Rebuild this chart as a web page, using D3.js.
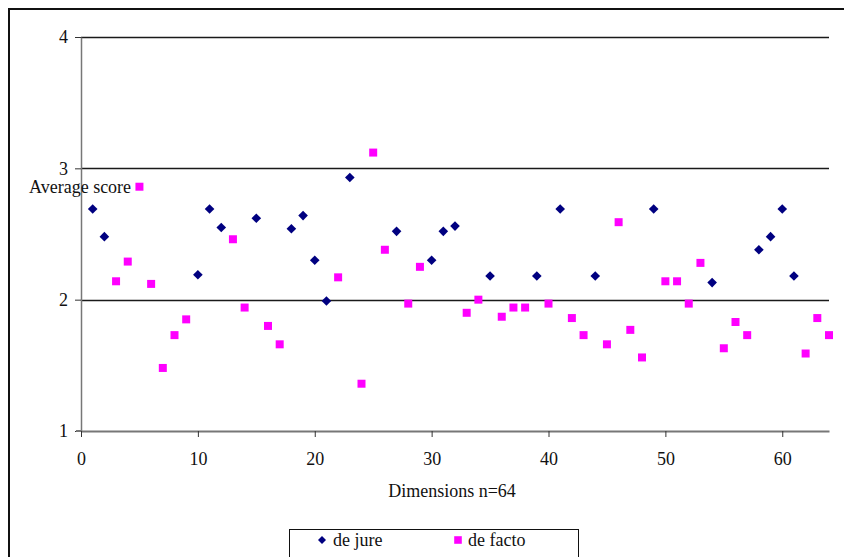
<!DOCTYPE html>
<html>
<head>
<meta charset="utf-8">
<script src="https://cdn.jsdelivr.net/npm/d3@7"></script>
<style>
  html, body { margin: 0; padding: 0; background: #fff; }
  svg { display: block; }
  svg text { font-family: "Liberation Serif", "Times New Roman", serif !important; }
</style>
</head>
<body>
<svg id="chart" width="844" height="557"></svg>
<script>
// ---- data ----
const deJureDims = [1, 2, 10, 11, 12, 15, 18, 19, 20, 21, 23, 27, 30, 31, 32, 35, 39, 41, 44, 49, 54, 58, 59, 60, 61];
const deJureScores = [2.69, 2.48, 2.19, 2.69, 2.55, 2.62, 2.54, 2.64, 2.30, 1.99, 2.93, 2.52, 2.30, 2.52, 2.56, 2.18, 2.18, 2.69, 2.18, 2.69, 2.13, 2.38, 2.48, 2.69, 2.18];
const deFactoDims = [3, 4, 5, 6, 7, 8, 9, 13, 14, 16, 17, 22, 24, 25, 26, 28, 29, 33, 34, 36, 37, 38, 40, 42, 43, 45, 46, 47, 48, 50, 51, 52, 53, 55, 56, 57, 62, 63, 64];
const deFactoScores = [2.14, 2.29, 2.86, 2.12, 1.48, 1.73, 1.85, 2.46, 1.94, 1.80, 1.66, 2.17, 1.36, 3.12, 2.38, 1.97, 2.25, 1.90, 2.00, 1.87, 1.94, 1.94, 1.97, 1.86, 1.73, 1.66, 2.59, 1.77, 1.56, 2.14, 2.14, 1.97, 2.28, 1.63, 1.83, 1.73, 1.59, 1.86, 1.73];
const xTicks = [0, 10, 20, 30, 40, 50, 60];
const yTicks = [1, 2, 3, 4];
const seriesNames = ["de jure", "de facto"];
const xTitle = "Dimensions n=64";
const yTitle = "Average score";

// ---- layout ----
const svg = d3.select("#chart");
const x = d3.scaleLinear().domain([0, 64]).range([81, 829]);
const y = d3.scaleLinear().domain([1, 4]).range([431, 37]);
const navy = "#000080", magenta = "#FF00FF";
const fontSize = 18;
const serif = '"Liberation Serif", "Times New Roman", serif';
const fmt = d3.format("d");

// outer frame
svg.append("rect").attr("x", 9).attr("y", 9).attr("width", 900).attr("height", 600)
  .attr("fill", "none").attr("stroke", "#111").attr("stroke-width", 2);

// gridlines
svg.append("g").selectAll("line").data(yTicks.filter(d => d > 1)).join("line")
  .attr("x1", x(0)).attr("x2", x(64))
  .attr("y1", d => Math.round(y(d)) + 0.5).attr("y2", d => Math.round(y(d)) + 0.5)
  .attr("stroke", "#1a1a1a").attr("stroke-width", 1.3);

// y axis
const yAxis = svg.append("g").attr("transform", `translate(${x(0)},0)`)
  .call(d3.axisLeft(y).tickValues(yTicks).tickFormat(fmt).tickSize(6).tickPadding(7).tickSizeOuter(0));
yAxis.attr("font-family", null);
yAxis.select(".domain").attr("stroke", "#777").attr("stroke-width", 1.5);
yAxis.selectAll(".tick line").attr("stroke", "#333");
yAxis.selectAll("text").attr("font-size", fontSize).attr("fill", "#111").style("font-family", serif);

// x axis
const xAxis = svg.append("g").attr("transform", `translate(0,${y(1)})`)
  .call(d3.axisBottom(x).tickValues(xTicks).tickFormat(fmt).tickSize(6).tickPadding(15).tickSizeOuter(0));
xAxis.attr("font-family", null);
xAxis.select(".domain").attr("stroke", "#777").attr("stroke-width", 2);
xAxis.selectAll(".tick line").attr("stroke", "#333");
xAxis.selectAll("text").attr("font-size", fontSize).attr("fill", "#111").style("font-family", serif);
svg.append("line").attr("x1", x(0) - 5).attr("x2", x(0)).attr("y1", y(1)).attr("y2", y(1))
  .attr("stroke", "#777").attr("stroke-width", 2);

// markers
const diamond = r => `M0,${-r}L${r},0L0,${r}L${-r},0Z`;
const square = s => `M${-s},${-s}H${s}V${s}H${-s}Z`;

svg.append("g").selectAll("path").data(deJureDims.map((d, i) => [d, deJureScores[i]])).join("path")
  .attr("d", diamond(4.8))
  .attr("transform", d => `translate(${x(d[0])},${y(d[1])})`)
  .attr("fill", navy);

svg.append("g").selectAll("path").data(deFactoDims.map((d, i) => [d, deFactoScores[i]])).join("path")
  .attr("d", square(4))
  .attr("transform", d => `translate(${x(d[0])},${y(d[1])})`)
  .attr("fill", magenta);

// titles
svg.append("text").attr("x", 29).attr("y", 193).attr("font-size", fontSize).attr("fill", "#111")
  .style("font-family", serif).text(yTitle);
svg.append("text").attr("x", 452).attr("y", 497).attr("text-anchor", "middle")
  .attr("font-size", fontSize).attr("fill", "#111").style("font-family", serif).text(xTitle);

// legend
const lg = svg.append("g");
lg.append("rect").attr("x", 289.5).attr("y", 529.5).attr("width", 289).attr("height", 60)
  .attr("fill", "#fff").attr("stroke", "#111").attr("stroke-width", 1);
const legendItems = [
  { name: seriesNames[0], shape: diamond(4), color: navy, mx: 322, tx: 333 },
  { name: seriesNames[1], shape: square(3.8), color: magenta, mx: 458, tx: 468 }
];
legendItems.forEach(it => {
  lg.append("path").attr("d", it.shape).attr("transform", `translate(${it.mx},540)`).attr("fill", it.color);
  lg.append("text").attr("x", it.tx).attr("y", 546).attr("font-size", fontSize).attr("fill", "#111")
    .style("font-family", serif).text(it.name);
});
</script>
</body>
</html>
